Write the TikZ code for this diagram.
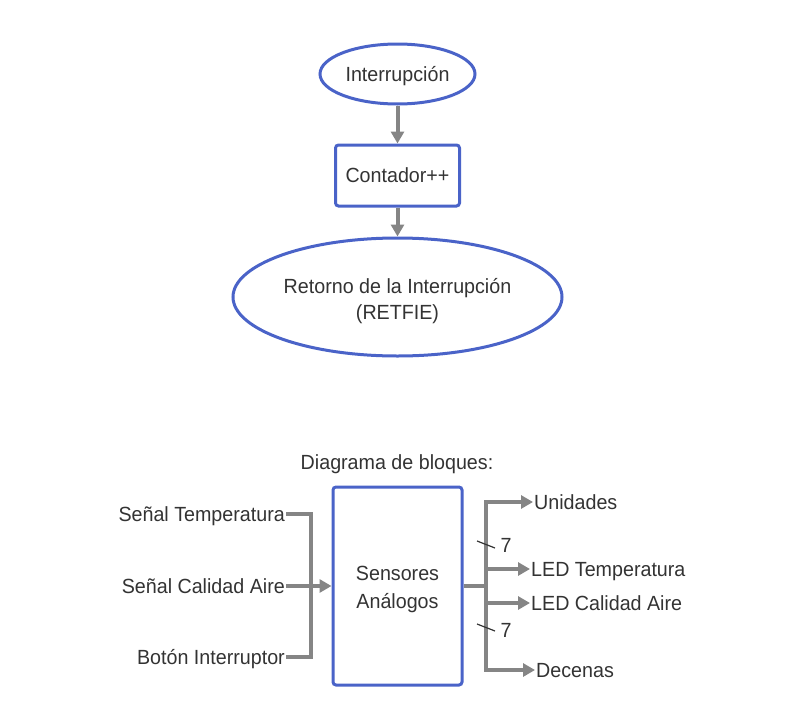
\documentclass[tikz,border=0pt]{standalone}
\usepackage{fontspec}
\setmainfont[FakeStretch=0.96]{Liberation Sans}
\usetikzlibrary{shapes.geometric,arrows.meta}
\definecolor{bl}{HTML}{4A63C8}
\definecolor{ln}{HTML}{858585}
\definecolor{tx}{HTML}{333333}
\newcommand\mytwoline[3]{\raisebox{#1}[\height][\depth]{\fontsize{20.5}{#2}\selectfont\begin{tabular}{@{}c@{}}#3\end{tabular}}}
\begin{document}
\begin{tikzpicture}[x=1pt,y=-1pt,
 txt/.style={text=tx,font=\fontsize{20.5}{27}\selectfont},
 one/.style={text height=18.6pt,text depth=4pt},
 oval/.style={ellipse,draw=bl,line width=3pt,txt,inner sep=0pt},
 boxx/.style={rectangle,draw=bl,line width=3pt,rounded corners=3pt,txt},
 conn/.style={draw=ln,line width=4pt},
 arr/.style={conn,-{Triangle[length=12pt,width=13pt]}},
 lab/.style={txt,one,inner sep=1pt}]
\useasboundingbox (0,0) rectangle (811,720);
\node[oval,one,minimum width=155,minimum height=60] (int) at (397.5,74) {Interrupción};
\node[boxx,one,minimum width=124,minimum height=61] (cont) at (397.5,175.5) {Contador++};
\node[oval,minimum width=329,minimum height=118] (ret) at (397.5,297) {\mytwoline{-4pt}{26pt}{Retorno de la Interrupción\\(RETFIE)}};
\draw[arr] (int) -- (cont);
\draw[arr] (cont) -- (ret);

\node[txt,one] (title) at (397,462) {Diagrama de bloques:};
\node[boxx,minimum width=129,minimum height=198] (sens) at (397.5,586) {\mytwoline{-2.7pt}{28pt}{Sensores\\Análogos}};

\node[lab,anchor=east] (st) at (286,514) {Señal Temperatura};
\node[lab,anchor=east] (sca) at (286,586) {Señal Calidad Aire};
\node[lab,anchor=east] (bi) at (286,657) {Botón Interruptor};
\coordinate (jl) at (311,586);
\draw[conn] (st.east) -| (jl) |- (bi.east);
\draw[arr] (sca.east) -- (sens.west);

\node[lab,anchor=west] (uni) at (533,502) {Unidades};
\node[lab,anchor=west] (ledt) at (530,569) {LED Temperatura};
\node[lab,anchor=west] (ledc) at (530,603) {LED Calidad Aire};
\node[lab,anchor=west] (dec) at (535,670) {Decenas};
\coordinate (jr) at (486,586);
\draw[conn] (sens.east) -- (jr);
\draw[arr] (jr) |- (uni.west);
\draw[arr] (jr) |- (dec.west);
\draw[arr] (jr |- ledt.west) -- (ledt.west);
\draw[arr] (jr |- ledc.west) -- (ledc.west);

\draw[tx,line width=1.2pt] (477,541) -- (495,548);
\node[txt,one] (n1) at (506,545) {7};
\draw[tx,line width=1.2pt] (477,624) -- (495,631);
\node[txt,one] (n2) at (506,630) {7};
\end{tikzpicture}
\end{document}
